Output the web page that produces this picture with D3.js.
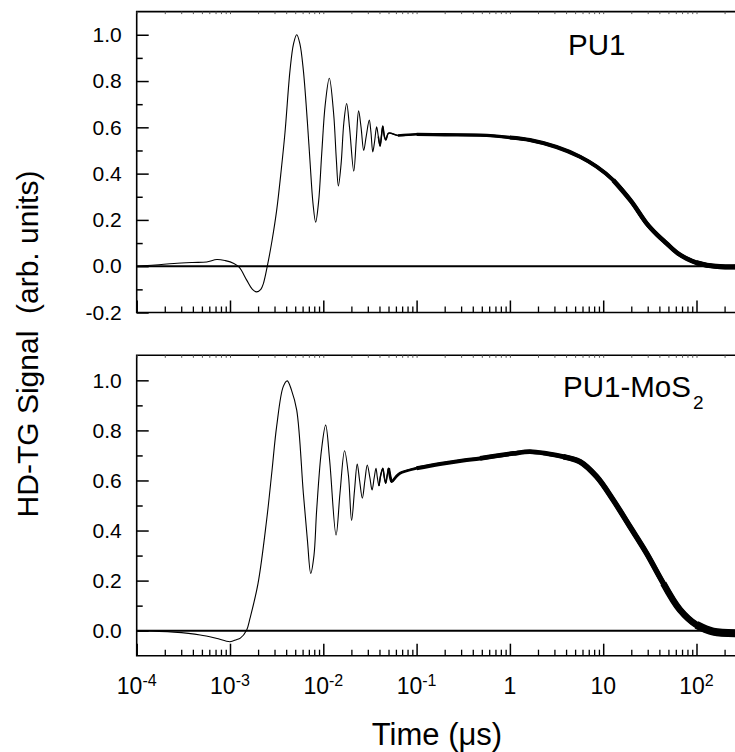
<!DOCTYPE html>
<html>
<head>
<meta charset="utf-8">
<script src="https://cdn.jsdelivr.net/npm/d3@7"></script>
<style>
  body { margin: 0; background: #fff; }
  svg { display: block; font-family: "Liberation Sans", Arial, sans-serif; }
</style>
</head>
<body>
<div class="chartsWrapper"></div>
<script>
// HD-TG signal traces (time in microseconds)
var pu1Time = [1.0e-4, 1.58e-4, 2.51e-4, 3.98e-4, 5.62e-4, 7.24e-4, 8.91e-4, 1.10e-3, 1.26e-3, 1.51e-3,
  1.74e-3, 1.93e-3, 2.14e-3, 2.28e-3, 2.51e-3, 2.82e-3, 3.16e-3, 3.55e-3, 3.89e-3, 4.40e-3,
  4.79e-3, 5.19e-3, 5.62e-3, 6.11e-3, 6.76e-3, 7.19e-3, 7.76e-3, 8.28e-3, 8.91e-3, 9.62e-3,
  1.05e-2, 1.16e-2, 1.29e-2, 1.38e-2, 1.45e-2, 1.55e-2, 1.66e-2, 1.78e-2, 1.91e-2, 2.12e-2,
  2.26e-2, 2.39e-2, 2.54e-2, 2.71e-2, 2.88e-2, 3.11e-2, 3.24e-2, 3.39e-2, 3.55e-2, 3.73e-2,
  3.89e-2, 4.06e-2, 4.22e-2, 4.34e-2, 4.52e-2, 4.68e-2, 5.01e-2, 6.31e-2, 0.100, 0.200,
  0.479, 1.0, 1.64, 3.16, 5.64, 8.51, 12.8, 20.0, 29.2, 38.0,
  47.9, 63.1, 78.5, 100, 129, 178, 282]
var pu1Signal = [0.000, 0.005, 0.012, 0.016, 0.018, 0.029, 0.024, 0.012, -0.005, -0.060,
  -0.100, -0.111, -0.100, -0.075, 0.000, 0.110, 0.240, 0.420, 0.580, 0.847,
  0.960, 1.000, 0.960, 0.847, 0.620, 0.458, 0.270, 0.190, 0.280, 0.487,
  0.700, 0.812, 0.660, 0.460, 0.347, 0.440, 0.620, 0.703, 0.600, 0.411,
  0.550, 0.671, 0.600, 0.500, 0.560, 0.631, 0.580, 0.494, 0.540, 0.602,
  0.560, 0.519, 0.570, 0.605, 0.560, 0.545, 0.575, 0.565, 0.570, 0.568,
  0.566, 0.556, 0.545, 0.515, 0.473, 0.430, 0.372, 0.280, 0.185, 0.135,
  0.098, 0.055, 0.033, 0.015, 0.004, -0.002, -0.003]

var mosTime = [1.0e-4, 2.51e-4, 4.79e-4, 7.08e-4, 1.0e-3, 1.17e-3, 1.29e-3, 1.51e-3, 1.64e-3, 2.00e-3,
  2.47e-3, 2.82e-3, 3.16e-3, 3.72e-3, 4.11e-3, 4.57e-3, 5.19e-3, 6.11e-3, 6.76e-3, 7.33e-3,
  7.94e-3, 8.49e-3, 9.55e-3, 1.06e-2, 1.17e-2, 1.37e-2, 1.51e-2, 1.69e-2, 1.86e-2, 2.01e-2,
  2.16e-2, 2.31e-2, 2.45e-2, 2.62e-2, 2.79e-2, 2.96e-2, 3.16e-2, 3.33e-2, 3.51e-2, 3.67e-2,
  3.80e-2, 3.95e-2, 4.12e-2, 4.34e-2, 4.52e-2, 4.67e-2, 4.84e-2, 5.02e-2, 5.25e-2, 5.41e-2,
  6.03e-2, 6.64e-2, 0.100, 0.178, 0.316, 0.479, 1.09, 1.64, 2.51, 3.73,
  5.64, 8.51, 12.8, 19.4, 29.2, 44.1, 66.5, 100, 151, 282]
var mosSignal = [0.000, -0.006, -0.017, -0.030, -0.044, -0.036, -0.030, 0.003, 0.050, 0.190,
  0.442, 0.640, 0.815, 0.975, 0.998, 0.960, 0.881, 0.549, 0.360, 0.229,
  0.300, 0.482, 0.720, 0.821, 0.680, 0.382, 0.550, 0.719, 0.620, 0.440,
  0.560, 0.666, 0.600, 0.529, 0.600, 0.662, 0.610, 0.562, 0.610, 0.649,
  0.610, 0.578, 0.620, 0.649, 0.610, 0.589, 0.620, 0.649, 0.610, 0.595,
  0.615, 0.629, 0.649, 0.666, 0.680, 0.688, 0.708, 0.715, 0.707, 0.695,
  0.675, 0.615, 0.522, 0.415, 0.309, 0.189, 0.083, 0.023, -0.004, -0.010]

var xMajor = [1e-4, 1e-3, 1e-2, 1e-1, 1, 10, 100, 1000]
var xLabelBase = ["10", "10", "10", "10", "1", "10", "10"]
var xLabelExp = ["-4", "-3", "-2", "-1", "", "", "2"]

var panels = [
  {name: "PU1", sub: "", time: pu1Time, signal: pu1Signal, yDomain: [-0.2, 1.1],
   yMajor: [-0.2, 0, 0.2, 0.4, 0.6, 0.8, 1.0], yMinor: [-0.1, 0.1, 0.3, 0.5, 0.7, 0.9],
   top: 11.6, bottom: 312.5, labelX: 568, labelY: 55,
   thick: [[-1.42, 1.5], [-1.3, 2.6], [-1.0, 3.3], [0.0, 4.0], [1.0, 4.6], [1.9, 5.2]]},
  {name: "PU1-MoS", sub: "2", time: mosTime, signal: mosSignal, yDomain: [-0.1, 1.1],
   yMajor: [0, 0.2, 0.4, 0.6, 0.8, 1.0], yMinor: [0.1, 0.3, 0.5, 0.7, 0.9],
   top: 355.3, bottom: 655.7, labelX: 563, labelY: 397,
   thick: [[-1.42, 1.5], [-1.3, 2.8], [-1.1, 4.0], [-0.5, 4.8], [0.5, 5.6], [1.5, 6.6], [2.0, 8.0]]}
]

var width = 735, height = 752
var xLeft = 136.7, decade = 93.3

var svg = d3.select('.chartsWrapper').append('svg')
  .attr('width', width)
  .attr('height', height)

var x = d3.scaleLog().domain([1e-4, 1e3]).range([xLeft, xLeft + 7 * decade])

var xMinor = []
xMajor.slice(0, -1).forEach(function(d) {
  for (var k = 2; k <= 9; k++) xMinor.push(d * k)
})

panels.forEach(function(p, pi) {
  var y = d3.scaleLinear().domain(p.yDomain).range([p.bottom, p.top])
  var g = svg.append('g')

  var data = p.time.map(function(t, i) { return {t: t, v: p.signal[i]} })

  // zero line
  g.append('line')
    .attr('x1', xLeft).attr('x2', width)
    .attr('y1', y(0)).attr('y2', y(0))
    .attr('stroke', '#000').attr('stroke-width', 2)

  var line = d3.line()
    .x(function(d) { return x(d.t) })
    .y(function(d) { return y(d.v) })
    .curve(d3.curveCatmullRom.alpha(0.5))

  g.append('path')
    .datum(data)
    .attr('d', line)
    .attr('fill', 'none')
    .attr('stroke', '#000')
    .attr('stroke-width', 1.1)

  // the noisy part of the trace gets thicker with time
  p.thick.forEach(function(s) {
    var sub = data.filter(function(d) { return Math.log10(d.t) >= s[0] })
    g.append('path')
      .datum(sub)
      .attr('d', line)
      .attr('fill', 'none')
      .attr('stroke', '#000')
      .attr('stroke-width', s[1])
      .attr('stroke-linejoin', 'round')
  })

  // frame
  g.append('path')
    .attr('d', 'M' + (width + 5) + ',' + p.top + 'H' + xLeft + 'V' + p.bottom + 'H' + (width + 5))
    .attr('fill', 'none').attr('stroke', '#000').attr('stroke-width', 1.6)

  // y ticks
  var yMaj = g.append('g').attr('transform', 'translate(' + xLeft + ',0)')
    .call(d3.axisLeft(y).tickValues(p.yMajor).tickSize(-12).tickSizeOuter(0).tickPadding(15)
      .tickFormat(function(d) { return d.toFixed(1) }))
  yMaj.select('.domain').remove()
  yMaj.selectAll('line').attr('stroke-width', 1.5)
  yMaj.selectAll('text').attr('font-size', 21).attr('font-family', '"Liberation Sans", Arial, sans-serif').attr('fill', '#000')

  var yMin = g.append('g').attr('transform', 'translate(' + xLeft + ',0)')
    .call(d3.axisLeft(y).tickValues(p.yMinor).tickSize(-6).tickSizeOuter(0).tickFormat(''))
  yMin.select('.domain').remove()
  yMin.selectAll('line').attr('stroke-width', 1.5)

  // x ticks on the bottom edge
  var xMaj = g.append('g').attr('transform', 'translate(0,' + p.bottom + ')')
    .call(d3.axisBottom(x).tickValues(xMajor).tickSize(-12).tickSizeOuter(0).tickFormat(''))
  xMaj.select('.domain').remove()
  xMaj.selectAll('line').attr('stroke-width', 1.5)

  var xMin = g.append('g').attr('transform', 'translate(0,' + p.bottom + ')')
    .call(d3.axisBottom(x).tickValues(xMinor).tickSize(-6).tickSizeOuter(0).tickFormat(''))
  xMin.select('.domain').remove()
  xMin.selectAll('line').attr('stroke-width', 1.3)

  // tiny ticks on the top edge
  var xTop = g.append('g').attr('transform', 'translate(0,' + p.top + ')')
    .call(d3.axisTop(x).tickValues(xMajor.concat(xMinor)).tickSize(-2.5).tickSizeOuter(0).tickFormat(''))
  xTop.select('.domain').remove()
  xTop.selectAll('line').attr('stroke', '#555').attr('stroke-width', 1)

  // panel label
  var lab = g.append('text')
    .attr('x', p.labelX).attr('y', p.labelY)
    .attr('font-size', 29.5)
    .text(p.name)
  if (p.sub) {
    lab.append('tspan').attr('font-size', 19).attr('dx', 2).attr('dy', 12).text(p.sub)
  }

  if (pi === panels.length - 1) {
    // decade labels with superscripts
    var lbl = g.selectAll('.xlabel')
      .data(xLabelBase.map(function(b, i) { return {base: b, exp: xLabelExp[i], t: xMajor[i]} }))
      .enter()
      .append('text')
      .attr('class', 'xlabel')
      .attr('x', function(d) { return x(d.t) })
      .attr('y', 694)
      .attr('text-anchor', 'middle')
      .attr('font-size', 23)
    lbl.append('tspan').text(function(d) { return d.base })
    lbl.filter(function(d) { return d.exp !== '' })
      .append('tspan')
      .attr('font-size', 16)
      .attr('dy', -8)
      .text(function(d) { return d.exp })
  }
})

svg.append('text')
  .attr('x', 437).attr('y', 745)
  .attr('text-anchor', 'middle')
  .attr('font-size', 31)
  .text('Time (\u03bcs)')

svg.append('text')
  .attr('transform', 'translate(38,344) rotate(-90)')
  .attr('text-anchor', 'middle')
  .attr('font-size', 30)
  .style('white-space', 'pre')
  .text('HD-TG Signal  (arb. units)')
</script>
</body>
</html>
